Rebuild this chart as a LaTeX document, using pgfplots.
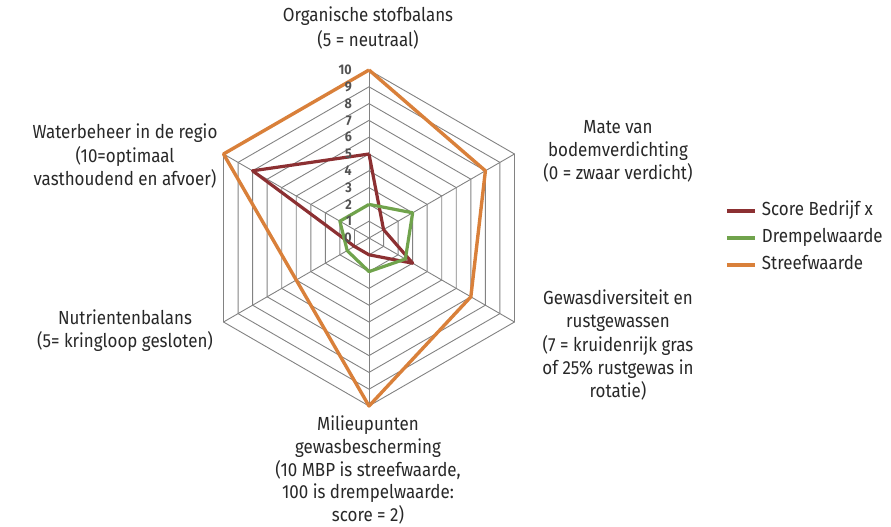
\documentclass[border=0pt]{standalone}
\usepackage{fontspec}
\setmainfont{Fira Sans}[FakeStretch=0.895]
\usepackage{pgfplots}
\pgfplotsset{compat=1.18}
\definecolor{scorecol}{RGB}{140,48,50}
\definecolor{drempelcol}{RGB}{112,163,76}
\definecolor{streefcol}{RGB}{217,128,58}
\definecolor{gridcol}{RGB}{130,130,130}
\definecolor{txtcol}{RGB}{40,40,40}
\begin{document}
\begin{tikzpicture}
\useasboundingbox (-369bp,238bp) rectangle (522bp,-289bp);
\begin{axis}[
  at={(0,0)}, anchor=origin,
  hide axis, clip=false,
  x=16.8bp, y=16.8bp,
  xmin=-10, xmax=10, ymin=-10, ymax=10,
  legend cell align=left,
  legend image code/.code={\draw[#1, line width=4bp] (0bp,0bp) -- (28bp,0bp);},
  legend style={at={(axis cs:21.19,0)}, anchor=west, draw=none, fill=none,
    inner sep=0pt, outer sep=0pt, row sep=10bp,
    font=\fontsize{19}{21}\selectfont\color{txtcol},
    nodes={inner sep=0pt, text height=13bp, text depth=4bp},
    /tikz/every odd column/.append style={column sep=5bp}},
]
% hexagonal grid
\pgfplotsinvokeforeach{1,...,10}{
  \addplot[gridcol, line width=0.9bp, forget plot, data cs=polar]
    coordinates {(90,#1) (30,#1) (-30,#1) (-90,#1) (-150,#1) (150,#1) (90,#1)};
}
\pgfplotsinvokeforeach{90,30,-30,-90,-150,150}{
  \addplot[gridcol, line width=0.9bp, forget plot, data cs=polar]
    coordinates {(#1,0) (#1,10)};
}
% Score Bedrijf x
\addplot[scorecol, line width=3.2bp, line join=round, data cs=polar]
  coordinates {(90,5) (30,1) (-30,3) (-90,1) (-150,1) (150,8) (90,5)};
\addlegendentry{Score Bedrijf x}
% Drempelwaarde
\addplot[drempelcol, line width=3.2bp, line join=round, data cs=polar]
  coordinates {(90,2) (30,3) (-30,2.5) (-90,2) (-150,1.5) (150,2) (90,2)};
\addlegendentry{Drempelwaarde}
% Streefwaarde
\addplot[streefcol, line width=3.4bp, line join=round, data cs=polar]
  coordinates {(90,10) (30,8) (-30,7) (-90,10) (-150,5) (150,10) (90,10)};
\addlegendentry{Streefwaarde}
\end{axis}
% radial tick labels
\foreach \k in {0,...,10}{
  \node[anchor=east, inner sep=0pt, text=txtcol!80, font=\fontsize{14}{14}\selectfont\bfseries]
    at (-17bp,{16.8bp*\k}) {\k};
}
% axis labels
\begin{scope}[every node/.style={align=center, text=txtcol, inner sep=0pt}]
\node[font=\fontsize{19}{25}\selectfont] at (-1bp,210bp)
  {Organische stofbalans\\(5 = neutraal)};
\node[font=\fontsize{19}{23}\selectfont] at (249bp,87bp)
  {Mate van\\bodemverdichting\\(0 = zwaar verdicht)};
\node[font=\fontsize{19}{23.5}\selectfont] at (249bp,-107bp)
  {Gewasdiversiteit en\\rustgewassen\\(7 = kruidenrijk gras\\of 25\% rustgewas in\\rotatie)};
\node[font=\fontsize{19}{23}\selectfont] at (-1bp,-232bp)
  {Milieupunten\\gewasbescherming\\(10 MBP is streefwaarde,\\100 is drempelwaarde:\\score = 2)};
\node[font=\fontsize{19}{23}\selectfont] at (-244bp,-93bp)
  {Nutrientenbalans\\(5= kringloop gesloten)};
\node[font=\fontsize{19}{24}\selectfont] at (-244bp,82bp)
  {Waterbeheer in de regio\\(10=optimaal\\vasthoudend en afvoer)};
\end{scope}
\end{tikzpicture}
\end{document}
